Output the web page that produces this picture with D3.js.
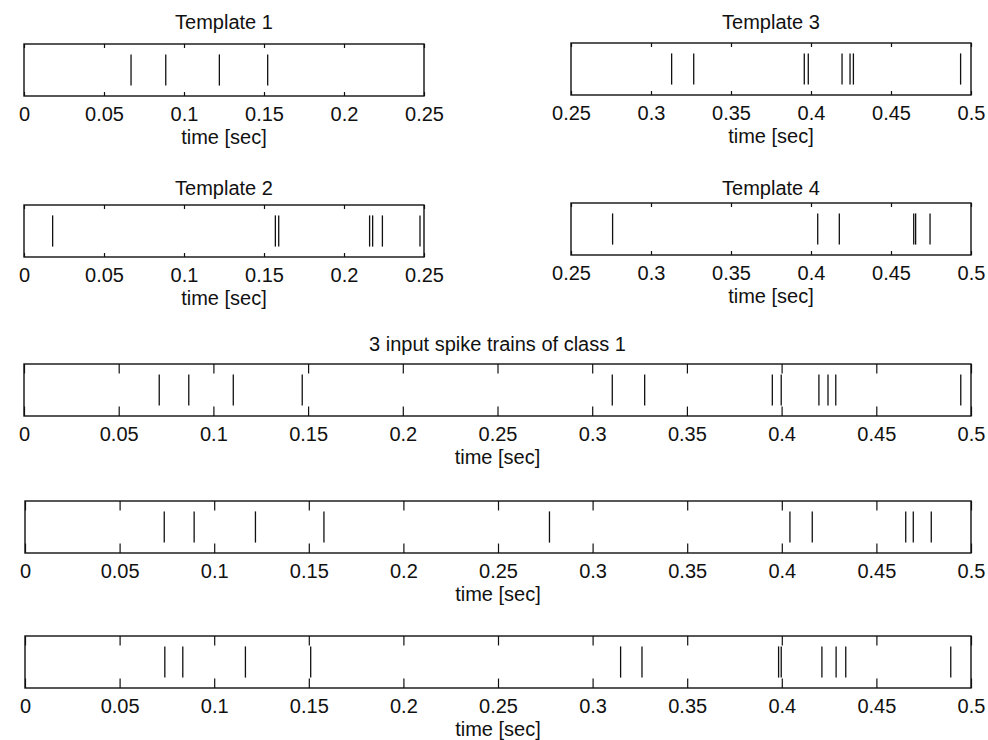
<!DOCTYPE html>
<html>
<head>
<meta charset="utf-8">
<script src="https://cdn.jsdelivr.net/npm/d3@7"></script>
<style>
  body { margin: 0; background: #fff; }
  text { font-family: "Liberation Sans", Arial, sans-serif; fill: #111; }
</style>
</head>
<body>
<script>
// spike times in seconds
const template1Spikes = [0.0669, 0.0886, 0.1221, 0.1523];
const template2Spikes = [0.0179, 0.1571, 0.1592, 0.2160, 0.2179, 0.2240, 0.2475];
const template3Spikes = [0.3129, 0.3267, 0.3958, 0.3983, 0.4194, 0.4244, 0.4265, 0.4935];
const template4Spikes = [0.2760, 0.4042, 0.4177, 0.4642, 0.4654, 0.4744];
const train1Spikes = [0.0714, 0.0870, 0.1105, 0.1469, 0.3106, 0.3277, 0.3951, 0.3998, 0.4197, 0.4245, 0.4286, 0.4946];
const train2Spikes = [0.0736, 0.0894, 0.1218, 0.1580, 0.2772, 0.4043, 0.4161, 0.4655, 0.4695, 0.4790];
const train3Spikes = [0.0739, 0.0834, 0.1165, 0.1510, 0.3148, 0.3261, 0.3983, 0.3997, 0.4212, 0.4287, 0.4338, 0.4893];

// tick values
const ticksFirstHalf = [0, 0.05, 0.1, 0.15, 0.2, 0.25];
const ticksSecondHalf = [0.25, 0.3, 0.35, 0.4, 0.45, 0.5];
const ticksFull = [0, 0.05, 0.1, 0.15, 0.2, 0.25, 0.3, 0.35, 0.4, 0.45, 0.5];

const xLabel = "time [sec]";
const bigTitle = "3 input spike trains of class 1";

const w = 988;
const h = 740;
const fontSize = 20;

const svg = d3.select("body").append("svg").attr("width", w).attr("height", h);

// draws one spike raster panel
function panel(opts) {
  const x = d3.scaleLinear().domain(opts.domain).range([opts.left, opts.right]);
  const y = d3.scaleLinear().domain([0, 1]).range([opts.top + opts.height, opts.top]);
  const bottom = opts.top + opts.height;
  const tickLen = (opts.right - opts.left) * 0.01;

  const g = svg.append("g");

  // inward ticks on the top edge
  g.append("g")
    .attr("transform", "translate(0," + opts.top + ")")
    .call(d3.axisTop(x).tickValues(opts.ticks).tickSize(-tickLen).tickFormat(""))
    .call((a) => a.select(".domain").remove())
    .call((a) => a.selectAll("line").attr("stroke", "#111").attr("stroke-width", 1.2));

  // inward ticks + labels on the bottom edge
  g.append("g")
    .attr("transform", "translate(0," + bottom + ")")
    .call(d3.axisBottom(x).tickValues(opts.ticks).tickSize(-tickLen).tickPadding(11).tickFormat(d3.format("~g")))
    .call((a) => a.select(".domain").remove())
    .call((a) => a.selectAll("line").attr("stroke", "#111").attr("stroke-width", 1.2))
    .call((a) => a.selectAll("text").attr("font-size", fontSize).attr("font-family", "Liberation Sans").attr("fill", "#111"));

  // spikes
  g.selectAll("line.spike")
    .data(opts.spikes)
    .enter()
    .append("line")
    .attr("class", "spike")
    .attr("x1", (d) => x(d))
    .attr("x2", (d) => x(d))
    .attr("y1", y(0.8))
    .attr("y2", y(0.2))
    .attr("stroke", "#111")
    .attr("stroke-width", 1.3);

  // frame
  g.append("rect")
    .attr("x", opts.left)
    .attr("y", opts.top)
    .attr("width", opts.right - opts.left)
    .attr("height", opts.height)
    .attr("fill", "none")
    .attr("stroke", "#111")
    .attr("stroke-width", 1.4);

  g.append("text")
    .attr("x", (opts.left + opts.right) / 2)
    .attr("y", bottom + 48)
    .attr("text-anchor", "middle")
    .attr("font-size", fontSize)
    .text(xLabel);

  if (opts.title) {
    g.append("text")
      .attr("x", (opts.left + opts.right) / 2)
      .attr("y", opts.titleY)
      .attr("text-anchor", "middle")
      .attr("font-size", fontSize)
      .text(opts.title);
  }
}

panel({ domain: [0, 0.25], left: 24, right: 424, top: 44, height: 52, ticks: ticksFirstHalf, spikes: template1Spikes, title: "Template 1", titleY: 29 });
panel({ domain: [0.25, 0.5], left: 571, right: 971, top: 43, height: 52, ticks: ticksSecondHalf, spikes: template3Spikes, title: "Template 3", titleY: 29 });
panel({ domain: [0, 0.25], left: 24, right: 424, top: 205, height: 52, ticks: ticksFirstHalf, spikes: template2Spikes, title: "Template 2", titleY: 195 });
panel({ domain: [0.25, 0.5], left: 571, right: 971, top: 203, height: 52, ticks: ticksSecondHalf, spikes: template4Spikes, title: "Template 4", titleY: 195 });

panel({ domain: [0, 0.5], left: 24, right: 971, top: 364, height: 52, ticks: ticksFull, spikes: train1Spikes, title: bigTitle, titleY: 351 });
panel({ domain: [0, 0.5], left: 25, right: 971, top: 501, height: 52, ticks: ticksFull, spikes: train2Spikes });
panel({ domain: [0, 0.5], left: 25, right: 971, top: 636, height: 52, ticks: ticksFull, spikes: train3Spikes });
</script>
</body>
</html>
